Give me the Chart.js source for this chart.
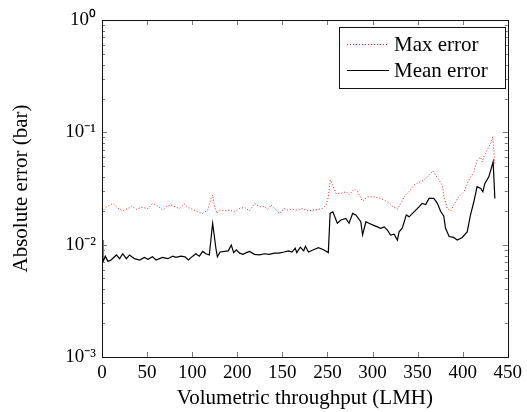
<!DOCTYPE html>
<html>
<head>
<meta charset="utf-8">
<script src="https://cdn.jsdelivr.net/npm/chart.js@4.4.0/dist/chart.umd.min.js"></script>
<style>html,body{margin:0;padding:0;background:#fff;}</style>
</head>
<body>
<canvas id="myChart" width="527" height="412"></canvas>
<script>
// data
var maxX = [0, 4.8, 12.2, 17.7, 23.2, 28.7, 32.4, 37.9, 43.5, 50.9, 56.4, 61.9, 67.4, 71.1, 76.6, 82.2, 85.9, 91.4, 95.1, 100.6,
    106.1, 111.7, 117.2, 120.9, 122.7, 124.6, 127.5, 130.5, 136, 141.5, 147.1, 152.6, 158.1, 163.6, 169.2, 174.7, 180.2, 183.9, 187.6, 191.3,
    196.8, 202.3, 206, 211.5, 217, 222.6, 228.1, 233.6, 239.2, 244.7, 248.5, 251, 253.2, 255.7, 259.5, 265, 270.6, 274.2, 279.7, 283.4,
    288.9, 294.5, 300, 305.5, 309.3, 312.9, 318.4, 322.1, 327.6, 331.4, 335, 340.6, 346.1, 351.6, 357.1, 362.7, 367.1, 371.9, 377.4, 379.3,
    382.9, 386.7, 392.2, 395.8, 401.4, 406.9, 412.4, 416.1, 419.8, 421.6, 423.5, 429, 432, 433.4, 435.6];
var maxY = [0.0196, 0.0217, 0.0233, 0.0211, 0.0200, 0.0210, 0.0221, 0.0206, 0.0215, 0.0210, 0.0233, 0.0221, 0.0203, 0.0218, 0.0225, 0.0215, 0.0210, 0.0230, 0.0215, 0.0206,
    0.0196, 0.0190, 0.0203, 0.0258, 0.0277, 0.0225, 0.0190, 0.0203, 0.0200, 0.0203, 0.0196, 0.0210, 0.0215, 0.0200, 0.0233, 0.0218, 0.0218, 0.0206, 0.0225, 0.0210,
    0.0190, 0.0210, 0.0203, 0.0206, 0.0203, 0.0210, 0.0200, 0.0203, 0.0206, 0.0210, 0.0225, 0.0267, 0.0376, 0.0340, 0.0286, 0.0286, 0.0296, 0.0277, 0.0313, 0.0296,
    0.0244, 0.0267, 0.0267, 0.0262, 0.0258, 0.0249, 0.0236, 0.0218, 0.0207, 0.0233, 0.0267, 0.0296, 0.0340, 0.0359, 0.0376, 0.0417, 0.0452, 0.0395, 0.0340, 0.0267,
    0.0210, 0.0200, 0.0241, 0.0267, 0.0296, 0.0376, 0.0446, 0.0567, 0.0599, 0.0547, 0.0607, 0.0744, 0.0825, 0.0914, 0.0529];

var meanX = [0, 1, 3.7, 6.6, 10, 16, 19.5, 23, 27, 30.6, 36, 41.7, 47, 51, 56, 60, 67, 73, 78.5, 82,
    87.7, 92, 95.8, 100.6, 104, 108, 111.7, 115.3, 119, 122.7, 126.4, 128, 131, 136, 140, 143.4, 146, 149, 152.6, 156.3,
    160, 163.6, 169, 174.7, 180, 185.5, 191, 196, 202, 207, 210.7, 214.3, 216, 220, 223.7, 225.6, 229, 234.5, 240, 245.7,
    249, 251, 253, 256, 261, 265, 270.5, 274, 278, 281.5, 287, 289, 292.7, 296, 300, 305.5, 309, 313, 316.5, 320,
    324, 327.6, 329.5, 333, 337.5, 340.6, 346, 351.6, 355, 359, 362.7, 368, 372, 375.5, 379, 381, 385, 390, 394, 399.5,
    405, 408.7, 412.4, 416, 420, 422.4, 424.6, 429, 433.8, 435.7];
var meanY = [0.0110, 0.0070, 0.0079, 0.0071, 0.0073, 0.0081, 0.0075, 0.0083, 0.0075, 0.0081, 0.0075, 0.0073, 0.0077, 0.0074, 0.0078, 0.0073, 0.0077, 0.0075, 0.0079, 0.0077,
    0.0079, 0.0078, 0.0073, 0.0079, 0.0083, 0.0079, 0.0087, 0.0083, 0.0081, 0.0155, 0.0092, 0.0078, 0.0086, 0.0087, 0.0088, 0.0099, 0.0085, 0.0090, 0.0084, 0.0082,
    0.0085, 0.0087, 0.0082, 0.0081, 0.0083, 0.0082, 0.0084, 0.0084, 0.0086, 0.0088, 0.0086, 0.0093, 0.0085, 0.0095, 0.0088, 0.0097, 0.0086, 0.0090, 0.0094, 0.0090,
    0.0087, 0.0085, 0.0190, 0.0196, 0.0155, 0.0166, 0.0171, 0.0155, 0.0190, 0.0184, 0.0160, 0.0122, 0.0160, 0.0155, 0.0150, 0.0144, 0.0140, 0.0144, 0.0135, 0.0122,
    0.0124, 0.0110, 0.0130, 0.0140, 0.0184, 0.0177, 0.0196, 0.0217, 0.0233, 0.0228, 0.0258, 0.0258, 0.0233, 0.0198, 0.0180, 0.0140, 0.0118, 0.0116, 0.0110, 0.0116,
    0.0130, 0.0184, 0.0241, 0.0328, 0.0317, 0.0296, 0.0351, 0.0402, 0.0547, 0.0258];

var xTickValues = [0, 50, 100, 150, 200, 250, 300, 350, 400, 450];
var xTickLabels = ['0', '50', '100', '200', '150', '250', '300', '350', '400', '450'];
var yTickValues = [0.001, 0.01, 0.1, 1];
var yTickLabels = ['10\u207B\u00B3', '10\u207B\u00B2', '10\u207B\u00B9', '10\u2070'];

var serif = 'Liberation Serif';
var toPoints = (xs, ys) => xs.map((x, i) => ({x: x, y: ys[i]}));

// inward ticks, frame and legend box like pgfplots
var framePlugin = {
    id: 'frame',
    afterDraw: function(chart) {
        var ctx = chart.ctx, a = chart.chartArea;
        var xs = chart.scales.x, ys = chart.scales.y;
        ctx.save();
        ctx.strokeStyle = '#777';
        ctx.lineWidth = 1;
        ctx.beginPath();
        xs.ticks.forEach(t => {
            var px = Math.round(xs.getPixelForValue(t.value)) + 0.5;
            ctx.moveTo(px, a.bottom); ctx.lineTo(px, a.bottom - 5);
            ctx.moveTo(px, a.top); ctx.lineTo(px, a.top + 5);
        });
        ys.ticks.forEach(t => {
            var py = Math.round(ys.getPixelForValue(t.value)) + 0.5;
            var len = yTickValues.indexOf(t.value) >= 0 ? 5 : 3;
            ctx.moveTo(a.left, py); ctx.lineTo(a.left + len, py);
            ctx.moveTo(a.right, py); ctx.lineTo(a.right - len, py);
        });
        ctx.stroke();
        ctx.strokeStyle = '#111';
        ctx.strokeRect(Math.round(a.left) + 0.5, Math.round(a.top) + 0.5, Math.round(a.right - a.left), Math.round(a.bottom - a.top));

        // legend
        var bx = 339.5, by = 27.5, bw = 166, bh = 61;
        ctx.fillStyle = '#fff';
        ctx.fillRect(bx, by, bw, bh);
        ctx.strokeStyle = '#111';
        ctx.strokeRect(bx, by, bw, bh);
        ctx.font = '21px "' + serif + '"';
        ctx.textBaseline = 'middle';
        chart.data.datasets.forEach((ds, i) => {
            var ly = 44.5 + i * 26;
            ctx.strokeStyle = ds.borderColor;
            ctx.lineWidth = ds.borderWidth;
            ctx.setLineDash(ds.borderDash || []);
            ctx.beginPath();
            ctx.moveTo(347, ly); ctx.lineTo(389, ly);
            ctx.stroke();
            ctx.setLineDash([]);
            ctx.fillStyle = '#000';
            ctx.fillText(ds.label, 394, ly + 1);
        });
        ctx.restore();
    }
};

var ctx = document.getElementById('myChart').getContext('2d');
var chart = new Chart(ctx, {
    type: 'scatter',
    data: {
        datasets: [
            {
                label: 'Max error',
                data: toPoints(maxX, maxY),
                showLine: true,
                borderColor: 'rgb(240, 30, 30)',
                borderWidth: 1,
                borderDash: [1, 2],
                pointRadius: 0
            },
            {
                label: 'Mean error',
                data: toPoints(meanX, meanY),
                showLine: true,
                borderColor: '#000',
                borderWidth: 1.2,
                pointRadius: 0
            }
        ]
    },
    options: {
        responsive: false,
        animation: false,
        layout: {padding: {top: 20, right: 18, left: 0, bottom: 0}},
        plugins: {legend: {display: false}, tooltip: {enabled: false}},
        scales: {
            x: {
                type: 'linear',
                min: 0,
                max: 450,
                afterBuildTicks: s => { s.ticks = xTickValues.map(v => ({value: v})); },
                afterFit: s => { s.height = 55; },
                grid: {drawOnChartArea: false, drawTicks: false},
                border: {display: false},
                ticks: {
                    autoSkip: false,
                    maxRotation: 0,
                    padding: 5,
                    color: '#000',
                    font: {family: serif, size: 19},
                    callback: v => xTickLabels[xTickValues.indexOf(v)]
                },
                title: {
                    display: true,
                    text: 'Volumetric throughput (LMH)',
                    color: '#000',
                    font: {family: serif, size: 21},
                    padding: {top: 0, bottom: 1}
                }
            },
            y: {
                type: 'logarithmic',
                min: 0.001,
                max: 1,
                afterBuildTicks: s => {
                    var t = [];
                    for (var e = -3; e < 0; e++) {
                        for (var m = 1; m < 10; m++) t.push({value: +(m * Math.pow(10, e)).toPrecision(3)});
                    }
                    t.push({value: 1});
                    s.ticks = t;
                },
                afterFit: s => { s.width = 102; },
                grid: {drawOnChartArea: false, drawTicks: false},
                border: {display: false},
                ticks: {
                    autoSkip: false,
                    padding: 6,
                    color: '#000',
                    font: {family: serif, size: 19},
                    callback: v => {
                        var i = yTickValues.indexOf(v);
                        return i >= 0 ? yTickLabels[i] : '';
                    }
                },
                title: {
                    display: true,
                    text: 'Absolute error (bar)',
                    color: '#000',
                    font: {family: serif, size: 21},
                    padding: {top: 9, bottom: 0}
                }
            }
        }
    },
    plugins: [framePlugin]
});
</script>
</body>
</html>
